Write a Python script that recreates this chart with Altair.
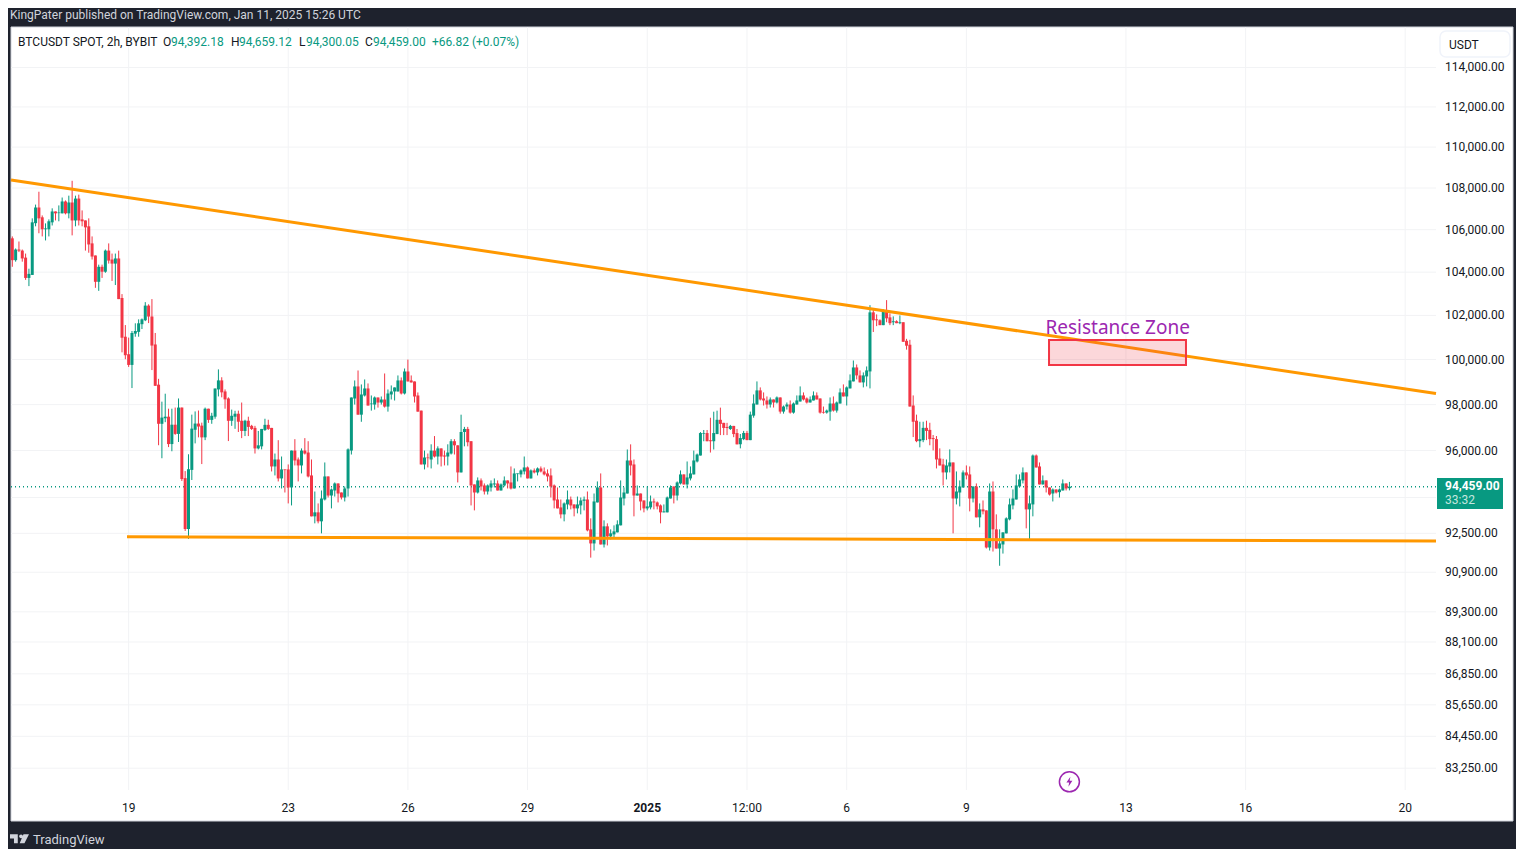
import altair as alt
import pandas as pd

GREEN = "#089981"
RED = "#f23645"
ORANGE = "#ff9800"
PURPLE = "#9c27b0"
DARK = "#1e222d"
INK = "#131722"
GRID = "#f2f3f5"
FONT = "Roboto"

opens = [
    105590,104560,105060,105010,104680,103730,103870,106310,107060,106590,
    106020,106020,106350,106870,106790,106780,107350,106780,107300,106440,
    107490,106490,106440,106160,105350,104780,103550,104250,104020,105010,
    104590,104400,104640,102800,101030,100240,99760,101170,101250,101600,
    101780,102450,101950,100680,98880,97160,97400,97470,96280,97120,
    96720,97870,94820,92680,95170,96900,97170,97080,96570,97820,
    97330,97470,98670,99070,98580,98270,97290,97470,97600,97292,
    96848,97292,97070,96981,96093,96182,96892,97114,96981,95318,
    95617,94807,95191,95191,94424,96000,95617,95361,96000,95915,
    94935,93208,93375,93000,93917,94892,94083,94296,94594,94211,
    94000,94381,96000,98268,98801,97558,98402,98712,98017,98002,
    98313,98091,98224,97913,98446,98579,98579,99068,98490,99467,
    99068,99023,98402,97736,95404,95702,95617,96000,95744,96093,
    95787,95744,95872,96404,96226,95063,96803,96936,96404,94552,
    94211,94722,94509,94253,94424,94552,94594,94296,94509,94722,
    94637,94381,94992,94978,95105,95276,94807,95148,95063,95233,
    95105,95020,94935,94509,93916,93583,93291,93708,93916,93708,
    93541,93666,93861,93916,92666,92082,93792,94424,92040,92791,
    92374,92457,92541,92832,93958,94168,95574,95404,94083,94168,
    93875,93541,93583,93833,93791,93666,93375,93375,93958,94466,
    94083,94594,94978,94552,94807,94978,95531,95787,96727,96757,
    96446,96402,96712,97334,97201,97023,96934,97068,96757,96272,
    96494,96761,96450,97516,98004,98626,98270,98182,98004,98226,
    98093,98315,97693,97915,98004,97649,98004,98137,98404,98270,
    98093,98182,98404,98270,97679,97649,97693,98048,97738,98048,
    98537,98359,98714,99025,99647,99292,98981,99247,99469,102140,
    101822,101778,101556,102187,101911,101689,101734,101645,101689,100846,
    100668,97960,97294,96406,96450,96983,96894,96539,96494,95659,
    95404,95063,95318,95489,93958,94211,94424,95063,94978,93958,
    94466,93166,93500,93458,91915,94253,92666,91873,92040,92499,
    93083,93666,93916,94466,94722,95063,93500,93708,95787,95318,
    94552,94722,94424,94168,94339,94225,94296,94594,94392.18,
]
highs = [
    105680,105110,105440,105060,104870,104160,106540,107200,107820,106680,
    106300,106490,107020,106870,107160,107540,107400,107630,108350,107630,
    107680,106920,106440,106540,105680,104780,104350,104350,105060,105350,
    104870,104870,105010,102980,101560,100990,101290,101640,101820,101860,
    102610,102510,102750,101200,99140,98130,98480,97820,97820,97870,
    98270,97870,95120,95840,97560,97700,97740,97210,97870,97820,
    97640,98710,99560,99210,98670,98320,97780,97730,97736,98091,
    97336,97469,97114,97070,96848,96936,97380,97336,96981,95872,
    96448,95744,95191,95404,96000,96492,95702,96093,96537,96404,
    95617,94253,93750,94296,95489,94892,94381,94637,94594,94211,
    94466,96093,98313,99068,99512,98890,99112,98934,98402,98357,
    98313,98357,99378,98668,98846,98757,99290,99201,99600,100000,
    99290,99023,98535,97736,96000,95872,96270,96626,96182,96093,
    96000,96270,96492,96492,96226,97558,97025,97025,96404,94552,
    94850,94807,94594,94552,94722,94807,94722,94594,94892,94722,
    95318,95233,95020,95191,95744,95318,95191,95233,95276,95318,
    95276,95191,95233,94552,94424,93916,93792,94296,94040,93708,
    94040,94000,94040,94253,93124,94168,94680,95020,93041,92916,
    92666,92832,93041,94722,94424,96047,96268,95617,94509,94168,
    93875,94466,94083,93958,93833,93708,93708,94040,94509,94466,
    94680,95148,94978,95531,95318,96000,95872,96801,96890,96890,
    97423,97689,97734,97867,97201,97201,97112,97068,96934,96716,
    96850,96850,97693,98448,99025,98759,98537,98359,98315,98226,
    98359,98315,97960,98093,98182,98093,98404,98803,98537,98315,
    98359,98581,98537,98270,97915,97782,98315,98359,98137,98714,
    98892,98803,99336,99958,99780,99514,99425,99691,102470,102328,
    102047,101822,102281,102702,102094,101956,101778,102000,101689,100934,
    100890,98404,97560,97249,97249,97294,97205,96672,96628,96095,
    95645,95617,96050,95489,95105,94722,95148,95361,95318,94466,
    94594,93750,93875,93458,94594,94679,93291,92666,92541,93166,
    93958,94339,94978,94978,95276,95063,94083,95830,95830,95489,
    94935,94722,94424,94381,94339,94381,94765,94594,94659.12,
]
lows = [
    104250,104490,104940,104490,103640,103350,103870,106160,105830,105680,
    105490,105680,106200,106440,106400,106780,106730,106540,105730,106160,
    106200,106160,105010,104910,104590,103270,103130,103730,103970,104400,
    103590,103400,102750,100325,100015,99670,98730,101030,101030,101380,
    101740,101650,99530,98830,96230,95670,97230,96150,95970,96680,
    96370,94700,92600,92270,94740,96310,96570,95420,96450,97200,
    97160,97380,98360,98320,97820,96410,97070,96940,96803,96537,
    96626,96626,96892,95872,96050,96050,96848,96892,95105,94935,
    94679,94381,94211,93750,93666,95361,94679,95020,95830,94850,
    93208,92916,92916,92500,93875,94000,93541,94040,93792,93917,
    93833,94040,95830,98002,97558,97247,98357,97958,97736,97780,
    97869,98002,97869,97691,98224,98180,98579,98446,98446,99023,
    98979,98091,97691,95404,95191,95276,95233,95702,95404,95318,
    95361,95361,95830,95830,94637,95063,96182,96182,93666,93458,
    94168,94296,94126,94126,94253,94424,94296,94296,94466,94381,
    94339,94381,94680,94850,94978,94807,94807,95020,94935,95063,
    94935,94679,94000,93541,93541,93124,93000,93500,93500,93208,
    93333,93291,93458,92582,91498,91790,93792,92040,91915,92000,
    92249,92332,92541,92832,93666,94168,94935,93208,94083,93458,
    93375,93458,93500,93500,93500,92916,93375,93375,93958,93750,
    93875,94552,94552,94381,94722,94978,95489,95787,96402,96402,
    95915,96046,96712,96668,96668,96668,96890,96579,96268,96095,
    96450,96450,96450,97427,98004,98182,97960,97826,97871,97871,
    98048,97604,97604,97782,97604,97604,98004,98137,98182,98048,
    98093,98182,98226,97604,97604,97604,97294,97693,97649,98048,
    98359,97960,98714,99025,99114,98981,98759,98803,98714,101245,
    101512,101556,101556,101689,101556,101556,101645,101600,100801,100446,
    97915,96583,96361,96139,96361,96450,96228,96006,95233,95361,
    94509,94765,95063,92499,93708,93625,94424,94765,93416,93792,
    93166,92749,93291,91873,91790,91748,91873,91164,91665,92499,
    93041,93500,93916,94424,94594,92707,92207,93208,95276,94552,
    94552,94211,94083,93833,94168,93998,94296,94296,94300.05,
]
closes = [
    104560,105060,105010,104640,103730,103920,106350,107060,106540,106020,
    106060,106400,106870,106780,106820,107350,106780,107300,106440,107490,
    106440,106400,106110,105300,104730,103550,104250,104020,105010,104540,
    104400,104640,102750,100985,100195,99760,101200,101290,101640,101820,
    102450,101950,100630,98830,97160,97430,97470,96280,97120,96720,
    97870,94780,92680,95200,96950,97170,97040,96570,97820,97330,
    97510,98710,99070,98540,98230,97290,97510,97600,97250,96848,
    97292,97025,96936,96093,96226,96936,97114,96936,95318,95617,
    94807,95191,95162,94424,96000,95574,95361,96000,95872,94892,
    93208,93375,93000,93958,94892,94083,94339,94594,94168,94000,
    94381,96050,98313,98801,97558,98446,98712,97958,98046,98313,
    98091,98224,97913,98490,98579,98757,99068,98490,99467,99023,
    98979,98357,97691,95404,95702,95673,96000,95744,96093,95744,
    95744,95915,96404,96226,95063,96803,96936,96359,94509,94211,
    94722,94466,94253,94509,94594,94594,94296,94552,94722,94594,
    94381,95020,95020,95148,95276,94807,95148,95063,95233,95105,
    94978,94892,94466,93875,93541,93291,93750,93916,93666,93541,
    93708,93875,93916,92624,92082,93833,94424,92040,92791,92374,
    92499,92582,92874,94000,94211,95574,95361,94083,94168,93833,
    93541,93625,93833,93791,93625,93375,93416,94000,94424,94083,
    94637,94978,94552,94850,95020,95574,95830,96757,96757,96402,
    96402,96757,97334,97156,96979,96979,97068,96712,96268,96539,
    96761,96450,97560,98048,98626,98226,98182,98004,98226,98093,
    98315,97693,97915,98004,97649,98048,98182,98404,98226,98093,
    98226,98404,98226,97649,97649,97738,98048,97738,98093,98537,
    98359,98759,99070,99647,99292,98981,99292,99514,102140,101778,
    101778,101556,102187,101867,101645,101734,101645,101689,100801,100624,
    97915,97249,96406,96494,96983,96850,96494,96494,95617,95361,
    95063,95361,95489,93958,94253,94466,95063,94935,93958,94466,
    93166,93500,93416,91915,94253,92666,91873,92082,92541,93124,
    93708,93958,94509,94765,95063,93500,93750,95787,95276,94552,
    94722,94424,94126,94339,94211,94339,94594,94381,94459.00,
]

first_bar = "2024-12-16T02:00:00Z"
time_left = "2024-12-16T01:13:00Z"
time_right = "2025-01-20T18:32:00Z"
price_domain = [82440, 116090]

price_ticks = [114000, 112000, 110000, 108000, 106000, 104000, 102000, 100000,
               98000, 96000, 92500, 90900, 89300, 88100, 86850, 85650, 84450, 83250]
price_grid = price_ticks + [94000]
time_ticks = ["2024-12-19T00:00:00Z", "2024-12-23T00:00:00Z", "2024-12-26T00:00:00Z",
              "2024-12-29T00:00:00Z", "2025-01-03T12:00:00Z",
              "2025-01-06T00:00:00Z", "2025-01-09T00:00:00Z", "2025-01-13T00:00:00Z",
              "2025-01-16T00:00:00Z", "2025-01-20T00:00:00Z"]
time_labels = ["19", "23", "26", "29", "12:00", "6", "9", "13", "16", "20"]
year_tick = "2025-01-01T00:00:00Z"
year_label = "2025"
last_price = 94459.00

upper_trend_t = [time_left, time_right]
upper_trend_p = [108390, 98488]
lower_trend_t = ["2024-12-18T23:00:00Z", time_right]
lower_trend_p = [92360, 92178]
zone_t = ["2025-01-11T01:43:00Z", "2025-01-14T12:07:00Z"]
zone_p = [100881, 99755]
zone_label_t = "2025-01-12T19:00:00Z"
zone_label_p = 101440

times = pd.date_range(first_bar, periods=len(opens), freq="2h").strftime("%Y-%m-%dT%H:%M:%SZ")
bars = pd.DataFrame({"t": times, "open": opens, "high": highs, "low": lows, "close": closes})


def ms(s):
    return int(pd.Timestamp(s).value // 10**6)


xs = alt.Scale(type="utc", domain=[ms(time_left), ms(time_right)], padding=0)
ys = alt.Scale(type="log", domain=price_domain, nice=False, padding=0)


def X(f):
    return alt.X(f, type="temporal", scale=xs, axis=None, title=None)


def Y(f):
    return alt.Y(f, type="quantitative", scale=ys, axis=None, title=None)


def label(text, px, py, color=INK, size=12, align="left", weight="normal", font=FONT):
    return alt.Chart().mark_text(text=text, color=color, fontSize=size, align=align, baseline="middle",
                                 font=font, fontWeight=weight).encode(x=alt.value(px - 11), y=alt.value(py - 27))


panel = alt.Chart().mark_rect(fill="white", stroke="#d1d4dc", strokeWidth=1).encode(
    x=alt.value(0), x2=alt.value(1502), y=alt.value(0), y2=alt.value(794))

all_time_ticks = time_ticks + [year_tick]
vgrid = alt.Chart(pd.DataFrame({"t": all_time_ticks})).mark_rule(color=GRID, strokeWidth=1).encode(x=X("t"))
hgrid = alt.Chart(pd.DataFrame({"p": price_grid})).mark_rule(color=GRID, strokeWidth=1).encode(y=Y("p"))
last_line = alt.Chart(pd.DataFrame({"p": [last_price]})).mark_rule(
    color=GREEN, strokeWidth=1.5, strokeDash=[1, 3]).encode(y=Y("p"))

price_labels = alt.Chart(pd.DataFrame({"p": price_ticks})).mark_text(
    font=FONT, fontSize=12, color=INK, align="left", baseline="middle").encode(
    x=alt.value(1445 - 11), y=Y("p"), text=alt.Text("p:Q", format=",.2f"))
date_labels = alt.Chart(pd.DataFrame({"t": time_ticks, "s": time_labels})).mark_text(
    font=FONT, fontSize=12, color=INK, align="center", baseline="middle").encode(
    x=X("t"), y=alt.value(808 - 27), text=alt.Text("s:N"))
year_text = alt.Chart(pd.DataFrame({"t": [year_tick], "s": [year_label]})).mark_text(
    font=FONT, fontSize=12, color=INK, align="center", baseline="middle", fontWeight="bold").encode(
    x=X("t"), y=alt.value(808 - 27), text=alt.Text("s:N"))

candle_color = alt.condition("datum.close >= datum.open", alt.value(GREEN), alt.value(RED))
wicks = alt.Chart(bars).mark_rule(strokeWidth=1).encode(
    x=X("t"), y=Y("low"), y2=alt.Y2("high"), color=candle_color)
bodies = alt.Chart(bars).mark_bar(size=3).encode(
    x=X("t"), y=Y("open"), y2=alt.Y2("close"), color=candle_color)

upper = alt.Chart(pd.DataFrame({"t": upper_trend_t, "p": upper_trend_p})).mark_line(
    color=ORANGE, strokeWidth=3).encode(x=X("t"), y=Y("p"))
lower = alt.Chart(pd.DataFrame({"t": lower_trend_t, "p": lower_trend_p})).mark_line(
    color=ORANGE, strokeWidth=3).encode(x=X("t"), y=Y("p"))

zone = alt.Chart(pd.DataFrame({"t": [zone_t[0]], "t2": [zone_t[1]], "p": [zone_p[0]], "p2": [zone_p[1]]})).mark_rect(
    fill=RED, fillOpacity=0.2, stroke=RED, strokeWidth=2).encode(
    x=X("t"), x2=alt.X2("t2"), y=Y("p"), y2=alt.Y2("p2"))
zone_label = alt.Chart(pd.DataFrame({"t": [zone_label_t], "p": [zone_label_p]})).mark_text(
    text="Resistance Zone", color=PURPLE, fontSize=19, font="Noto Sans", align="center", baseline="middle").encode(
    x=X("t"), y=Y("p"))

price_tag = alt.Chart().mark_rect(fill=GREEN).encode(
    x=alt.value(1437 - 11), x2=alt.value(1503 - 11), y=alt.value(478 - 27), y2=alt.value(509 - 27))
unit_box = alt.Chart().mark_rect(fill="white", stroke="#f0f3fa", strokeWidth=1.5, cornerRadius=6).encode(
    x=alt.value(1440 - 11), x2=alt.value(1510 - 11), y=alt.value(31 - 27), y2=alt.value(57 - 27))

ring = alt.Chart().mark_point(shape="circle", size=400, filled=False, color=PURPLE, strokeWidth=1.5, opacity=1).encode(
    x=alt.value(1069.4 - 11), y=alt.value(781.8 - 27))
bolt = alt.Chart().mark_point(shape="M0.2,-1 L-0.6,0.15 L-0.05,0.15 L-0.2,1 L0.6,-0.2 L0.05,-0.2 Z",
                              size=100, filled=True, color=PURPLE, opacity=1).encode(
    x=alt.value(1069.4 - 11), y=alt.value(781.8 - 27))
logo = alt.Chart().mark_point(
    shape=("M-1,-0.47 H-0.18 V0.47 H-0.58 V-0.02 H-1 Z "
           "M0.36,-0.26 A0.2,0.2 0 1 1 -0.04,-0.26 A0.2,0.2 0 1 1 0.36,-0.26 Z "
           "M0.42,-0.47 H1 L0.52,0.47 H0.02 Z"),
    size=361, filled=True, color="#d1d4dc", opacity=1).encode(x=alt.value(19.5 - 11), y=alt.value(838.8 - 27))

texts = [
    label("KingPater published on TradingView.com, Jan 11, 2025 15:26 UTC", 10, 15, color="#d1d4dc", size=12),
    label("BTCUSDT SPOT, 2h, BYBIT", 18, 42),
    label("O", 163, 42), label("94,392.18", 171, 42, color=GREEN),
    label("H", 231, 42), label("94,659.12", 239, 42, color=GREEN),
    label("L", 299, 42), label("94,300.05", 306, 42, color=GREEN),
    label("C", 365, 42), label("94,459.00", 373, 42, color=GREEN),
    label("+66.82 (+0.07%)", 432, 42, color=GREEN),
    label("USDT", 1449, 45),
    label("94,459.00", 1445, 486, color="white", weight="bold"),
    label("33:32", 1445, 500, color="#c4e6df"),
    label("TradingView", 33, 840, color="#d1d4dc", size=13),
]

chart = alt.layer(
    panel, vgrid, hgrid, last_line, wicks, bodies, upper, lower, zone, zone_label,
    price_labels, date_labels, year_text,
    price_tag, unit_box, ring, bolt, logo, *texts
).properties(
    width=1425, height=763,
    padding={"left": 3, "top": 19, "right": 80, "bottom": 59},
    autosize=alt.AutoSizeParams(type="none"),
    background=DARK,
).configure_view(stroke=None)

chart.save("out.html", embed_options={"renderer": "svg", "actions": False})
